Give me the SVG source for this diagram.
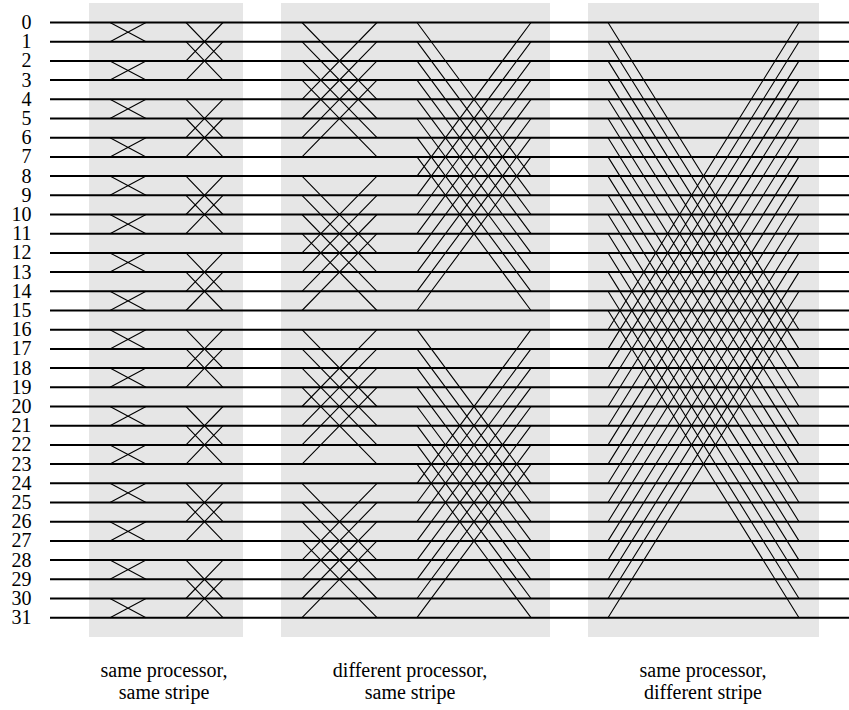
<svg xmlns="http://www.w3.org/2000/svg" width="849" height="710" viewBox="0 0 849 710">
<style>
.panel{fill:#e6e6e6;stroke:none}
.wire{stroke:#000;stroke-width:2;fill:none}
.x{stroke:#000;stroke-width:1.1;fill:none}
.num{font-family:"Liberation Serif","Times New Roman",serif;font-size:20px;fill:#000;text-anchor:end}
.cap{font-family:"Liberation Serif","Times New Roman",serif;font-size:20px;fill:#000;text-anchor:middle}
</style>
<g id="panels">
<rect class="panel" x="89" y="3" width="154" height="634"/>
<rect class="panel" x="281" y="3" width="269" height="634"/>
<rect class="panel" x="588" y="3" width="231" height="634"/>
</g>
<g id="connectors">
<path id="stage1" class="x" d="M110 22.5L146 41.7M110 41.7L146 22.5M110 60.9L146 80.1M110 80.1L146 60.9M110 99.3L146 118.5M110 118.5L146 99.3M110 137.7L146 156.9M110 156.9L146 137.7M110 176.1L146 195.3M110 195.3L146 176.1M110 214.5L146 233.7M110 233.7L146 214.5M110 252.9L146 272.1M110 272.1L146 252.9M110 291.3L146 310.5M110 310.5L146 291.3M110 329.7L146 348.9M110 348.9L146 329.7M110 368.1L146 387.3M110 387.3L146 368.1M110 406.5L146 425.7M110 425.7L146 406.5M110 444.9L146 464.1M110 464.1L146 444.9M110 483.3L146 502.5M110 502.5L146 483.3M110 521.7L146 540.9M110 540.9L146 521.7M110 560.1L146 579.3M110 579.3L146 560.1M110 598.5L146 617.7M110 617.7L146 598.5"/>
<path id="stage2" class="x" d="M186 22.5L223 60.9M186 60.9L223 22.5M186 41.7L223 80.1M186 80.1L223 41.7M186 99.3L223 137.7M186 137.7L223 99.3M186 118.5L223 156.9M186 156.9L223 118.5M186 176.1L223 214.5M186 214.5L223 176.1M186 195.3L223 233.7M186 233.7L223 195.3M186 252.9L223 291.3M186 291.3L223 252.9M186 272.1L223 310.5M186 310.5L223 272.1M186 329.7L223 368.1M186 368.1L223 329.7M186 348.9L223 387.3M186 387.3L223 348.9M186 406.5L223 444.9M186 444.9L223 406.5M186 425.7L223 464.1M186 464.1L223 425.7M186 483.3L223 521.7M186 521.7L223 483.3M186 502.5L223 540.9M186 540.9L223 502.5M186 560.1L223 598.5M186 598.5L223 560.1M186 579.3L223 617.7M186 617.7L223 579.3"/>
<path id="stage3" class="x" d="M302 22.5L377 99.3M302 99.3L377 22.5M302 41.7L377 118.5M302 118.5L377 41.7M302 60.9L377 137.7M302 137.7L377 60.9M302 80.1L377 156.9M302 156.9L377 80.1M302 176.1L377 252.9M302 252.9L377 176.1M302 195.3L377 272.1M302 272.1L377 195.3M302 214.5L377 291.3M302 291.3L377 214.5M302 233.7L377 310.5M302 310.5L377 233.7M302 329.7L377 406.5M302 406.5L377 329.7M302 348.9L377 425.7M302 425.7L377 348.9M302 368.1L377 444.9M302 444.9L377 368.1M302 387.3L377 464.1M302 464.1L377 387.3M302 483.3L377 560.1M302 560.1L377 483.3M302 502.5L377 579.3M302 579.3L377 502.5M302 521.7L377 598.5M302 598.5L377 521.7M302 540.9L377 617.7M302 617.7L377 540.9"/>
<path id="stage4" class="x" d="M417 22.5L531 176.1M417 176.1L531 22.5M417 41.7L531 195.3M417 195.3L531 41.7M417 60.9L531 214.5M417 214.5L531 60.9M417 80.1L531 233.7M417 233.7L531 80.1M417 99.3L531 252.9M417 252.9L531 99.3M417 118.5L531 272.1M417 272.1L531 118.5M417 137.7L531 291.3M417 291.3L531 137.7M417 156.9L531 310.5M417 310.5L531 156.9M417 329.7L531 483.3M417 483.3L531 329.7M417 348.9L531 502.5M417 502.5L531 348.9M417 368.1L531 521.7M417 521.7L531 368.1M417 387.3L531 540.9M417 540.9L531 387.3M417 406.5L531 560.1M417 560.1L531 406.5M417 425.7L531 579.3M417 579.3L531 425.7M417 444.9L531 598.5M417 598.5L531 444.9M417 464.1L531 617.7M417 617.7L531 464.1"/>
<path id="stage5" class="x" d="M608 22.5L799 329.7M608 329.7L799 22.5M608 41.7L799 348.9M608 348.9L799 41.7M608 60.9L799 368.1M608 368.1L799 60.9M608 80.1L799 387.3M608 387.3L799 80.1M608 99.3L799 406.5M608 406.5L799 99.3M608 118.5L799 425.7M608 425.7L799 118.5M608 137.7L799 444.9M608 444.9L799 137.7M608 156.9L799 464.1M608 464.1L799 156.9M608 176.1L799 483.3M608 483.3L799 176.1M608 195.3L799 502.5M608 502.5L799 195.3M608 214.5L799 521.7M608 521.7L799 214.5M608 233.7L799 540.9M608 540.9L799 233.7M608 252.9L799 560.1M608 560.1L799 252.9M608 272.1L799 579.3M608 579.3L799 272.1M608 291.3L799 598.5M608 598.5L799 291.3M608 310.5L799 617.7M608 617.7L799 310.5"/>
</g>
<g id="wires">
<path class="wire" d="M50 22.5H849M50 41.7H849M50 60.9H849M50 80.1H849M50 99.3H849M50 118.5H849M50 137.7H849M50 156.9H849M50 176.1H849M50 195.3H849M50 214.5H849M50 233.7H849M50 252.9H849M50 272.1H849M50 291.3H849M50 310.5H849M50 329.7H849M50 348.9H849M50 368.1H849M50 387.3H849M50 406.5H849M50 425.7H849M50 444.9H849M50 464.1H849M50 483.3H849M50 502.5H849M50 521.7H849M50 540.9H849M50 560.1H849M50 579.3H849M50 598.5H849M50 617.7H849"/>
</g>
<g id="labels">
<text class="num" x="31.5" y="29">0</text>
<text class="num" x="31.5" y="48.2">1</text>
<text class="num" x="31.5" y="67.4">2</text>
<text class="num" x="31.5" y="86.6">3</text>
<text class="num" x="31.5" y="105.8">4</text>
<text class="num" x="31.5" y="125">5</text>
<text class="num" x="31.5" y="144.2">6</text>
<text class="num" x="31.5" y="163.4">7</text>
<text class="num" x="31.5" y="182.6">8</text>
<text class="num" x="31.5" y="201.8">9</text>
<text class="num" x="31.5" y="221">10</text>
<text class="num" x="31.5" y="240.2">11</text>
<text class="num" x="31.5" y="259.4">12</text>
<text class="num" x="31.5" y="278.6">13</text>
<text class="num" x="31.5" y="297.8">14</text>
<text class="num" x="31.5" y="317">15</text>
<text class="num" x="31.5" y="336.2">16</text>
<text class="num" x="31.5" y="355.4">17</text>
<text class="num" x="31.5" y="374.6">18</text>
<text class="num" x="31.5" y="393.8">19</text>
<text class="num" x="31.5" y="413">20</text>
<text class="num" x="31.5" y="432.2">21</text>
<text class="num" x="31.5" y="451.4">22</text>
<text class="num" x="31.5" y="470.6">23</text>
<text class="num" x="31.5" y="489.8">24</text>
<text class="num" x="31.5" y="509">25</text>
<text class="num" x="31.5" y="528.2">26</text>
<text class="num" x="31.5" y="547.4">27</text>
<text class="num" x="31.5" y="566.6">28</text>
<text class="num" x="31.5" y="585.8">29</text>
<text class="num" x="31.5" y="605">30</text>
<text class="num" x="31.5" y="624.2">31</text>
</g>
<g id="captions">
<text class="cap" x="164" y="677">same processor,</text>
<text class="cap" x="164" y="699">same stripe</text>
<text class="cap" x="410" y="677">different processor,</text>
<text class="cap" x="410" y="699">same stripe</text>
<text class="cap" x="703" y="677">same processor,</text>
<text class="cap" x="703" y="699">different stripe</text>
</g>
</svg>
